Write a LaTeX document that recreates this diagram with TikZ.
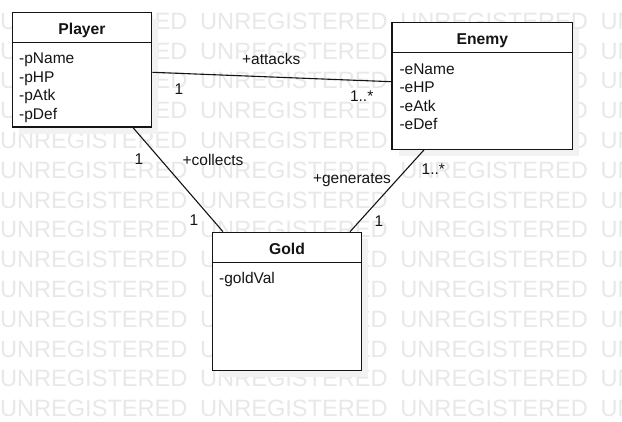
\documentclass[tikz,border=0pt]{standalone}
\usepackage{fontspec}
\setmainfont{Liberation Sans}
\usetikzlibrary{calc}
\definecolor{wm}{RGB}{232,232,232}
\definecolor{shade}{RGB}{242,242,242}
\definecolor{ink}{RGB}{20,20,20}
\begin{document}
\begin{tikzpicture}[x=1pt,y=-1pt,
  wmtext/.style={anchor=base west, inner sep=0, text=wm, font=\fontsize{23.6}{24}\selectfont},
  umlbox/.style={draw=ink, line width=1.2pt, fill=white, inner sep=0, rectangle},
  shadowbox/.style={fill=shade, inner sep=0, draw=none, rectangle},
  title/.style={anchor=base, inner sep=0, font=\fontsize{15.7}{16}\selectfont\bfseries, text=ink},
  attr/.style={anchor=base west, inner sep=0, font=\fontsize{15.5}{16}\selectfont, text=ink},
  lbl/.style={anchor=base, inner sep=0, font=\fontsize{15.5}{16}\selectfont, text=ink},
  conn/.style={draw=ink, line width=1.1pt},
  divider/.style={draw=ink, line width=1.2pt}]
\useasboundingbox (0,0) rectangle (622,421);
\fill[white] (0,0) rectangle (622,421);
% watermark
\foreach \r in {0,...,13}{
  \foreach \c in {0,...,3}{
    \node[wmtext] (wm-\r-\c) at ({-0.2+200.2*\c},{29.3+29.8*\r}) {UNREGISTERED};
  }
}
% shadows
\node[shadowbox, minimum width=139.4pt, minimum height=114.3pt] (playershadow) at (88.5,76.35) {};
\node[shadowbox, minimum width=180.7pt, minimum height=126.6pt] (enemyshadow) at (488.85,92.5) {};
\node[shadowbox, minimum width=149.4pt, minimum height=138.4pt] (goldshadow) at (293.5,308) {};
% connectors
\coordinate (pe-a) at (152,72.3);
% boxes
\node[umlbox, minimum width=139.4pt, minimum height=114.3pt] (player) at (82,69.85) {};
\node[umlbox, minimum width=180.7pt, minimum height=126.6pt] (enemy) at (482.35,86) {};
\node[umlbox, minimum width=149.4pt, minimum height=138.4pt] (gold) at (287,301.5) {};
\draw[divider] ($(player.north west)+(0,30.3)$) -- ($(player.north east)+(0,30.3)$);
\draw[divider] ($(enemy.north west)+(0,30.6)$) -- ($(enemy.north east)+(0,30.6)$);
\draw[divider] ($(gold.north west)+(0,31)$) -- ($(gold.north east)+(0,31)$);
% titles
\node[title] (playertitle) at (82,34) {Player};
\node[title] (enemytitle) at (482.35,44.3) {Enemy};
\node[title] (goldtitle) at (287,254) {Gold};
% attributes
\node[attr] (pa1) at (19,63.5) {-pName};
\node[attr] (pa2) at (19,82.1) {-pHP};
\node[attr] (pa3) at (19,100.7) {-pAtk};
\node[attr] (pa4) at (19,119.3) {-pDef};
\node[attr] (ea1) at (399.3,74) {-eName};
\node[attr] (ea2) at (399.3,92.6) {-eHP};
\node[attr] (ea3) at (399.3,111.2) {-eAtk};
\node[attr] (ea4) at (399.3,129.8) {-eDef};
\node[attr] (ga1) at (219,283.8) {-goldVal};
% connectors
\draw[conn] ($(player.east)+(0,2.45)$) -- ($(enemy.west)+(0,-4.3)$);
\draw[conn] ($(player.south)+(51,0)$) -- ($(gold.north)+(-64,0)$);
\draw[conn] ($(enemy.south)+(-58.35,0)$) -- ($(gold.north)+(63,0)$);
% labels
\node[lbl] (l-attacks) at (271.2,64) {+attacks};
\node[lbl] (l-pe1) at (179,94.3) {1};
\node[lbl] (l-pe2) at (361.7,101.7) {1..*};
\node[lbl] (l-pg1) at (139,164.3) {1};
\node[lbl] (l-collects) at (213,165) {+collects};
\node[lbl] (l-pg2) at (194,225.7) {1};
\node[lbl] (l-generates) at (352,183.3) {+generates};
\node[lbl] (l-eg1) at (433.3,174) {1..*};
\node[lbl] (l-eg2) at (379,226) {1};
\end{tikzpicture}
\end{document}
